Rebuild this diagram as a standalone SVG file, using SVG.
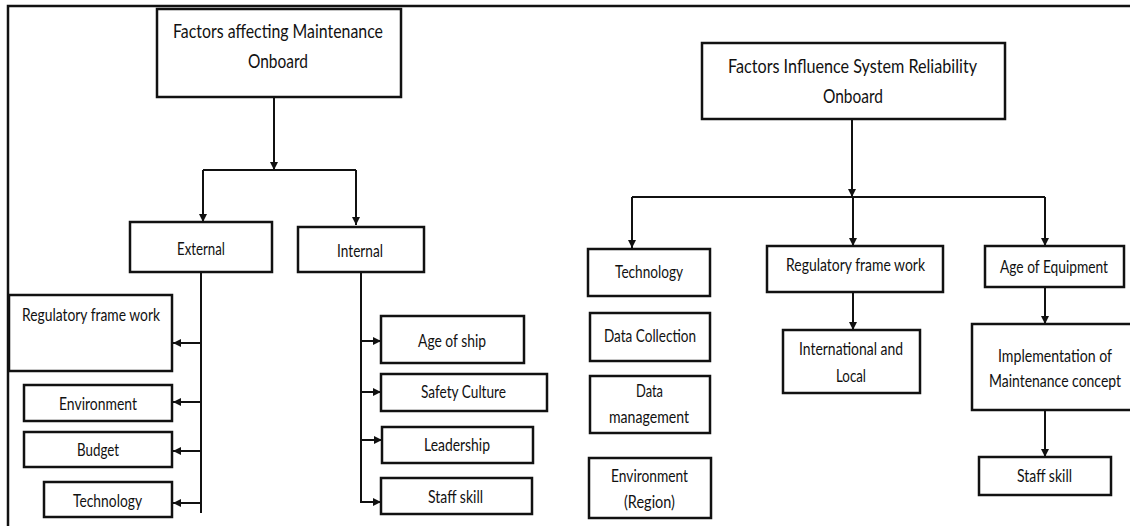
<svg xmlns="http://www.w3.org/2000/svg" width="1130" height="526" viewBox="0 0 1130 526">
<defs>
<style>
.box{fill:#fff;stroke:#111;stroke-width:2.5}
.ln{fill:none;stroke:#111;stroke-width:2}
.arr{fill:none;stroke:#111;stroke-width:2;marker-end:url(#ah)}
text{font-family:Lato,"Liberation Sans",sans-serif;font-size:18px;fill:#111;text-anchor:middle}
.t{font-size:19px}
</style>
<marker id="ah" viewBox="0 0 8 8" refX="8" refY="4" markerWidth="8" markerHeight="8" orient="auto" markerUnits="userSpaceOnUse">
<path d="M0,0 L8,4 L0,8 z" fill="#111"/>
</marker>
</defs>
<rect width="1130" height="526" fill="#fff"/>
<polyline class="ln" points="8,526 8,6 1130,6" style="stroke-width:2.5"/>

<g id="connectors">
<line class="arr" x1="274" y1="97" x2="274" y2="170"/>
<line class="ln" x1="203" y1="170" x2="356" y2="170"/>
<line class="arr" x1="203" y1="170" x2="203" y2="222"/>
<line class="arr" x1="356" y1="170" x2="356" y2="225"/>
<line class="ln" x1="201" y1="272" x2="201" y2="513"/>
<line class="arr" x1="201" y1="343" x2="173" y2="343"/>
<line class="arr" x1="201" y1="402" x2="173" y2="402"/>
<line class="arr" x1="201" y1="451" x2="173" y2="451"/>
<line class="arr" x1="201" y1="503" x2="173" y2="503"/>
<line class="ln" x1="361" y1="272" x2="361" y2="502"/>
<line class="arr" x1="360" y1="341" x2="381" y2="341"/>
<line class="arr" x1="360" y1="392" x2="381" y2="392"/>
<line class="arr" x1="360" y1="440" x2="382" y2="440"/>
<line class="arr" x1="360" y1="502" x2="381" y2="502"/>
<line class="arr" x1="852" y1="119" x2="852" y2="197"/>
<line class="ln" x1="632" y1="197" x2="1045" y2="197"/>
<line class="arr" x1="632" y1="197" x2="632" y2="248"/>
<line class="arr" x1="853" y1="197" x2="853" y2="246"/>
<line class="arr" x1="1045" y1="197" x2="1045" y2="246"/>
<line class="arr" x1="853" y1="292" x2="853" y2="330"/>
<line class="arr" x1="1045" y1="287" x2="1045" y2="324"/>
<line class="arr" x1="1045" y1="410" x2="1045" y2="457"/>
</g>

<g id="n-maint-title"><rect class="box" x="157" y="9" width="244" height="88"/>
<text class="t" x="278" y="38" textLength="210" lengthAdjust="spacingAndGlyphs">Factors affecting Maintenance</text>
<text class="t" x="278" y="68" textLength="60" lengthAdjust="spacingAndGlyphs">Onboard</text></g>
<g id="n-external"><rect class="box" x="130" y="222" width="142" height="50"/>
<text x="201" y="255" textLength="48" lengthAdjust="spacingAndGlyphs">External</text></g>
<g id="n-internal"><rect class="box" x="298" y="227" width="126" height="45"/>
<text x="360" y="257" textLength="46" lengthAdjust="spacingAndGlyphs">Internal</text></g>
<g id="n-reg-left"><rect class="box" x="9" y="295" width="163" height="76"/>
<text x="91" y="321" textLength="138" lengthAdjust="spacingAndGlyphs">Regulatory frame work</text></g>
<g id="n-env-left"><rect class="box" x="24" y="385" width="148" height="36"/>
<text x="98" y="410" textLength="78" lengthAdjust="spacingAndGlyphs">Environment</text></g>
<g id="n-budget"><rect class="box" x="24" y="432" width="148" height="35"/>
<text x="98" y="456" textLength="42" lengthAdjust="spacingAndGlyphs">Budget</text></g>
<g id="n-tech-left"><rect class="box" x="44" y="482" width="128" height="35"/>
<text x="107.5" y="507" textLength="69" lengthAdjust="spacingAndGlyphs">Technology</text></g>
<g id="n-age-ship"><rect class="box" x="381" y="316" width="143" height="47"/>
<text x="452" y="347" textLength="68" lengthAdjust="spacingAndGlyphs">Age of ship</text></g>
<g id="n-safety"><rect class="box" x="381" y="374" width="166" height="37"/>
<text x="463.5" y="398" textLength="85" lengthAdjust="spacingAndGlyphs">Safety Culture</text></g>
<g id="n-leadership"><rect class="box" x="382" y="427" width="151" height="36"/>
<text x="457" y="451" textLength="66" lengthAdjust="spacingAndGlyphs">Leadership</text></g>
<g id="n-staff-left"><rect class="box" x="381" y="478" width="151" height="36"/>
<text x="455.5" y="503" textLength="55" lengthAdjust="spacingAndGlyphs">Staff skill</text></g>

<g id="n-rel-title"><rect class="box" x="702" y="43" width="303" height="76"/>
<text class="t" x="852.5" y="73" textLength="249" lengthAdjust="spacingAndGlyphs">Factors Influence System Reliability</text>
<text class="t" x="853" y="103" textLength="60" lengthAdjust="spacingAndGlyphs">Onboard</text></g>
<g id="n-tech-right"><rect class="box" x="588" y="249" width="122" height="47"/>
<text x="649" y="278" textLength="68" lengthAdjust="spacingAndGlyphs">Technology</text></g>
<g id="n-datacoll"><rect class="box" x="590" y="313" width="120" height="48"/>
<text x="650" y="342" textLength="92" lengthAdjust="spacingAndGlyphs">Data Collection</text></g>
<g id="n-datamgmt"><rect class="box" x="590" y="376" width="120" height="57"/>
<text x="649.5" y="397" textLength="27" lengthAdjust="spacingAndGlyphs">Data</text>
<text x="649" y="423" textLength="80" lengthAdjust="spacingAndGlyphs">management</text></g>
<g id="n-env-right"><rect class="box" x="589" y="458" width="122" height="60"/>
<text x="649.5" y="482" textLength="77" lengthAdjust="spacingAndGlyphs">Environment</text>
<text x="649.5" y="508" textLength="51" lengthAdjust="spacingAndGlyphs">(Region)</text></g>
<g id="n-reg-right"><rect class="box" x="767" y="246" width="176" height="46"/>
<text x="855.5" y="271" textLength="139" lengthAdjust="spacingAndGlyphs">Regulatory frame work</text></g>
<g id="n-intl"><rect class="box" x="783" y="330" width="137" height="63"/>
<text x="851" y="355" textLength="104" lengthAdjust="spacingAndGlyphs">International and</text>
<text x="851" y="382" textLength="30" lengthAdjust="spacingAndGlyphs">Local</text></g>
<g id="n-age-equip"><rect class="box" x="985" y="246" width="139" height="41"/>
<text transform="translate(1054,273) scale(0.75,1)" x="0" y="0" textLength="144" lengthAdjust="spacingAndGlyphs">Age of Equipment</text></g>
<g id="n-impl"><rect class="box" x="972" y="324" width="160" height="86"/>
<text transform="translate(1055,362) scale(0.75,1)" x="0" y="0" textLength="152" lengthAdjust="spacingAndGlyphs">Implementation of</text>
<text transform="translate(1055,387) scale(0.75,1)" x="0" y="0" textLength="176" lengthAdjust="spacingAndGlyphs">Maintenance concept</text></g>
<g id="n-staff-right"><rect class="box" x="979" y="457" width="132" height="38"/>
<text x="1044.5" y="482" textLength="55" lengthAdjust="spacingAndGlyphs">Staff skill</text></g>
</svg>
